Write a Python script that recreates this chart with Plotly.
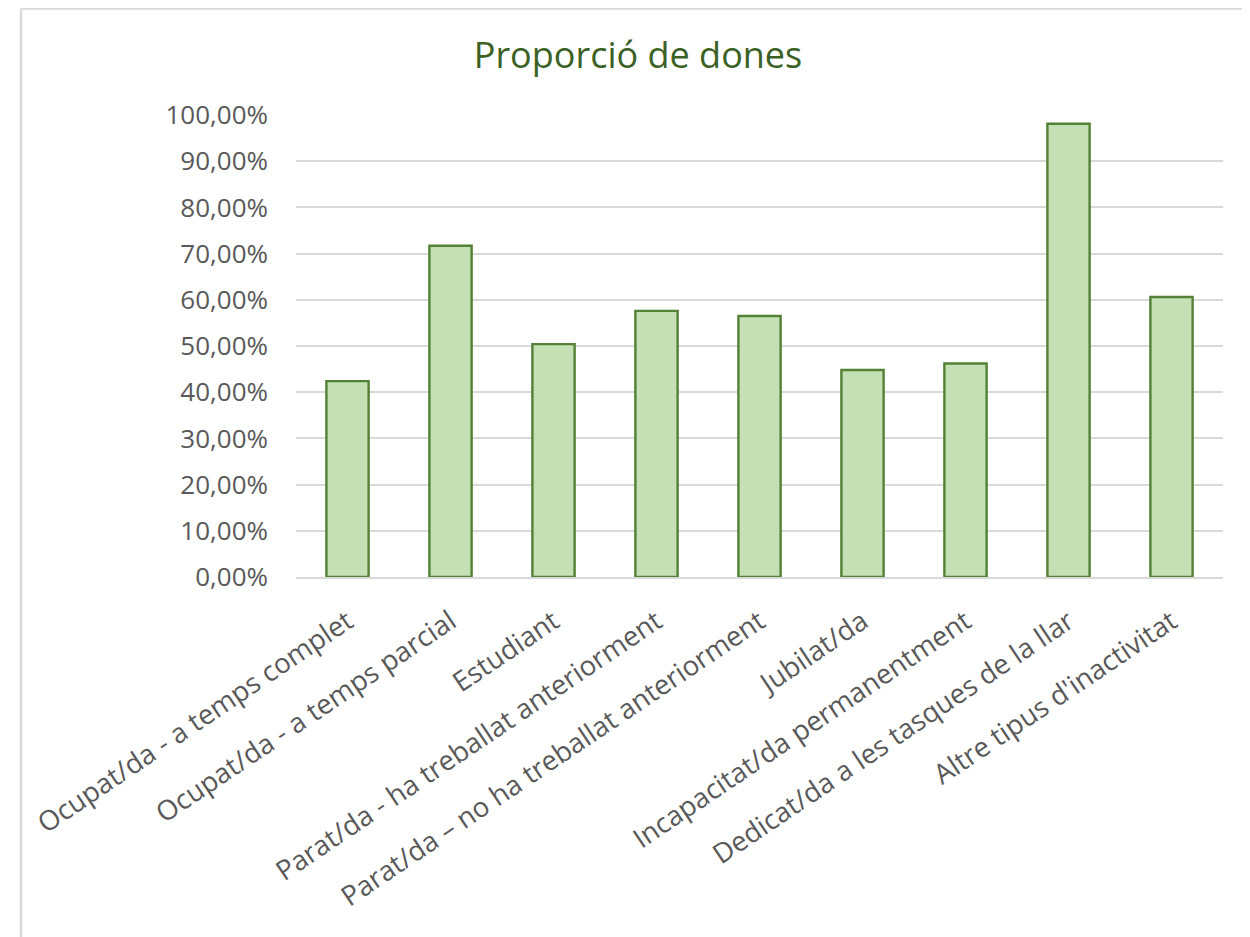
import plotly.graph_objects as go

categories = [
    "Ocupat/da - a temps complet",
    "Ocupat/da - a temps parcial",
    "Estudiant",
    "Parat/da - ha treballat anteriorment",
    "Parat/da – no ha treballat anteriorment",
    "Jubilat/da",
    "Incapacitat/da permanentment",
    "Dedicat/da a les tasques de la llar",
    "Altre tipus d'inactivitat",
]
values = [0.424, 0.717, 0.504, 0.576, 0.565, 0.448, 0.462, 0.981, 0.606]
y_ticks = [i / 10 for i in range(11)]

fig = go.Figure()
fig.add_trace(go.Bar(
    x=categories,
    y=values,
    marker=dict(color="#c5e0b4", line=dict(color="#538135", width=2.4)),
    hoverinfo="x+y",
))

# the page body adds an 8px offset; margins compensate for it
OFF = 8
W, H = 1250, 937
L, R, T, B = 296 - OFF, 35, 115 - OFF, 368
pw = W - L - R
ph = H - T - B

def px_x(p):  # page pixel -> paper coordinate
    return (p - OFF - L) / pw

def px_y(p):
    return (H - B - (p - OFF)) / ph

fig.update_layout(
    width=W, height=H,
    margin=dict(l=L, r=R, t=T, b=B),
    paper_bgcolor="white",
    plot_bgcolor="white",
    separators=",.",
    bargap=0.59,
    showlegend=False,
    font=dict(family="Open Sans", color="#595959", size=24),
    title=dict(
        text="Proporció de dones",
        x=(638 - OFF) / W, xanchor="center", xref="container",
        y=1 - (55 - OFF) / H, yanchor="middle", yref="container",
        font=dict(family="Open Sans", size=36, color="#3b6125"),
    ),
    xaxis=dict(
        tickangle=-34,
        showgrid=False,
        showline=True, linecolor="#d9d9d9", linewidth=1.5,
        ticks="",
        ticklabelstandoff=16,
        tickfont=dict(size=27.5, color="#595959"),
    ),
    yaxis=dict(
        range=[0, 1],
        tickvals=y_ticks,
        tickformat=".2%",
        showgrid=True, gridcolor="#d9d9d9", gridwidth=1.5,
        zeroline=False,
        showline=False,
        ticks="",
        ticklabelstandoff=27,
        tickfont=dict(size=26, color="#595959"),
    ),
    shapes=[
        dict(type="line", xref="paper", yref="paper",
             x0=px_x(21), x1=px_x(21), y0=px_y(8.5), y1=px_y(960),
             line=dict(color="#d9d9d9", width=2.5)),
        dict(type="line", xref="paper", yref="paper",
             x0=px_x(21), x1=px_x(1270), y0=px_y(8.5), y1=px_y(8.5),
             line=dict(color="#d9d9d9", width=2.5)),
    ],
)

fig.write_html("out.html")
